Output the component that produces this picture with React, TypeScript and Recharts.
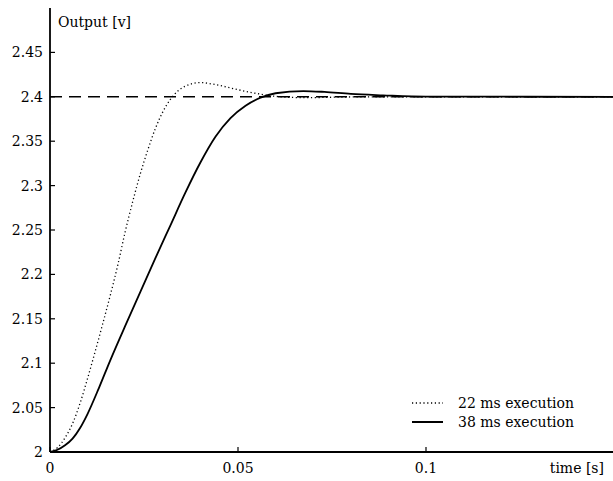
import React from 'react'
import { LineChart, Line, XAxis, YAxis, ReferenceLine } from 'recharts'

// step response samples
const t22 = [0, 0.002, 0.004, 0.006, 0.008, 0.01, 0.012, 0.014, 0.016, 0.018, 0.02, 0.022, 0.024, 0.026, 0.028, 0.03, 0.032, 0.034, 0.036, 0.038, 0.04, 0.043, 0.046, 0.05, 0.054, 0.058, 0.062, 0.068, 0.075, 0.085, 0.1, 0.15]
const v22 = [2, 2.005, 2.016, 2.032, 2.055, 2.083, 2.113, 2.144, 2.176, 2.21, 2.248, 2.282, 2.313, 2.34, 2.364, 2.383, 2.397, 2.4065, 2.412, 2.415, 2.416, 2.4145, 2.412, 2.408, 2.4045, 2.4015, 2.3998, 2.399, 2.3995, 2.4, 2.4, 2.4]

const t38 = [0, 0.002, 0.004, 0.006, 0.008, 0.01, 0.013, 0.016, 0.02, 0.024, 0.028, 0.032, 0.036, 0.04, 0.044, 0.048, 0.052, 0.056, 0.06, 0.0674, 0.073, 0.08, 0.0886, 0.1, 0.15]
const v38 = [2, 2.0025, 2.0075, 2.015, 2.027, 2.043, 2.072, 2.103, 2.142, 2.18, 2.218, 2.255, 2.292, 2.326, 2.355, 2.376, 2.39, 2.399, 2.404, 2.4065, 2.4055, 2.4032, 2.4017, 2.4003, 2.4]

const setpoint = 2.4
const xTicks = [0, 0.05, 0.1, 0.15]
const yTicks = [2, 2.05, 2.1, 2.15, 2.2, 2.25, 2.3, 2.35, 2.4, 2.45, 2.5]
const xTitle = 'time [s]'
const yTitle = 'Output [v]'
const names = ['22 ms execution', '38 ms execution']

const data22 = t22.map((t, i) => ({ t, v: v22[i] }))
const data38 = t38.map((t, i) => ({ t, v: v38[i] }))

const FONT = "'DejaVu Serif', 'Liberation Serif', serif"
const INK = '#000'
const txt = { fontFamily: FONT, fontSize: 14 }

const LeftTick = (props: any) => {
  const { x, y, payload } = props
  const v = payload.value
  if (v === 2.5) {
    return (
      <text x={x + 8} y={y + 18} style={txt} fill={INK}>{yTitle}</text>
    )
  }
  return (
    <g>
      <line x1={x} x2={x + 5} y1={y} y2={y} stroke={INK} strokeWidth={1.2} />
      <text x={x - 7} y={y} dy="0.36em" textAnchor="end" style={txt} fill={INK}>{String(v)}</text>
    </g>
  )
}

const RightTick = (props: any) => {
  const { x, y } = props
  return <line x1={x - 5} x2={x} y1={y} y2={y} stroke={INK} strokeWidth={1.2} />
}

const BottomTick = (props: any) => {
  const { x, y, payload } = props
  const v = payload.value
  if (v === 0.15) {
    return (
      <text x={x - 2} y={y + 21} textAnchor="end" style={txt} fill={INK}>{xTitle}</text>
    )
  }
  return (
    <g>
      <line x1={x} x2={x} y1={y} y2={y - 5} stroke={INK} strokeWidth={1.2} />
      <text x={x} y={y + 21} textAnchor="middle" style={txt} fill={INK}>{String(v)}</text>
    </g>
  )
}

const TopTick = (props: any) => {
  const { x, y } = props
  return <line x1={x} x2={x} y1={y} y2={y + 5} stroke={INK} strokeWidth={1.2} />
}

const LegendBox = () => (
  <svg width={190} height={44} style={{ position: 'absolute', left: 410, top: 393 }}>
    <line x1={2} x2={33} y1={10} y2={10} stroke={INK} strokeWidth={1.3} strokeDasharray="1.2 2.6" />
    <text x={48} y={15} style={txt} fill={INK}>{names[0]}</text>
    <line x1={2} x2={33} y1={29} y2={29} stroke={INK} strokeWidth={2} />
    <text x={48} y={34} style={txt} fill={INK}>{names[1]}</text>
  </svg>
)

export default function App() {
  return (
    <div style={{ position: 'absolute', left: 0, top: 0, width: 613, height: 481, overflow: 'hidden', background: '#fff' }}>
      <LineChart width={620} height={481} margin={{ top: 8, right: 6, left: 0, bottom: 0 }}>
        <XAxis
          xAxisId="b"
          type="number"
          dataKey="t"
          domain={[0, 0.15]}
          ticks={xTicks}
          height={29}
          tickSize={0}
          tickMargin={0}
          tickLine={false}
          tick={<BottomTick />}
          axisLine={{ stroke: INK, strokeWidth: 1.8 }}
          allowDataOverflow
        />
        <XAxis
          xAxisId="top"
          orientation="top"
          type="number"
          dataKey="t"
          domain={[0, 0.15]}
          ticks={[0.05, 0.1]}
          height={0}
          tickSize={0}
          tickMargin={0}
          tickLine={false}
          tick={<TopTick />}
          axisLine={{ stroke: INK, strokeWidth: 1.8 }}
        />
        <YAxis
          yAxisId="l"
          type="number"
          domain={[2, 2.5]}
          ticks={yTicks}
          width={50}
          tickSize={0}
          tickMargin={0}
          tickLine={false}
          tick={<LeftTick />}
          axisLine={{ stroke: INK, strokeWidth: 1.8 }}
          allowDataOverflow
        />
        <YAxis
          yAxisId="r"
          orientation="right"
          type="number"
          domain={[2, 2.5]}
          ticks={yTicks}
          width={0}
          tickSize={0}
          tickMargin={0}
          tickLine={false}
          tick={<RightTick />}
          axisLine={{ stroke: INK, strokeWidth: 1.8 }}
        />
        <ReferenceLine xAxisId="b" yAxisId="l" y={setpoint} stroke={INK} strokeWidth={1.6} strokeDasharray="12 7" />
        <Line
          xAxisId="b"
          yAxisId="l"
          data={data22}
          dataKey="v"
          type="monotone"
          stroke={INK}
          strokeWidth={1.3}
          strokeDasharray="1.2 2.6"
          dot={false}
          isAnimationActive={false}
        />
        <Line
          xAxisId="b"
          yAxisId="l"
          data={data38}
          dataKey="v"
          type="monotone"
          stroke={INK}
          strokeWidth={1.8}
          dot={false}
          isAnimationActive={false}
        />
      </LineChart>
      <LegendBox />
    </div>
  )
}
